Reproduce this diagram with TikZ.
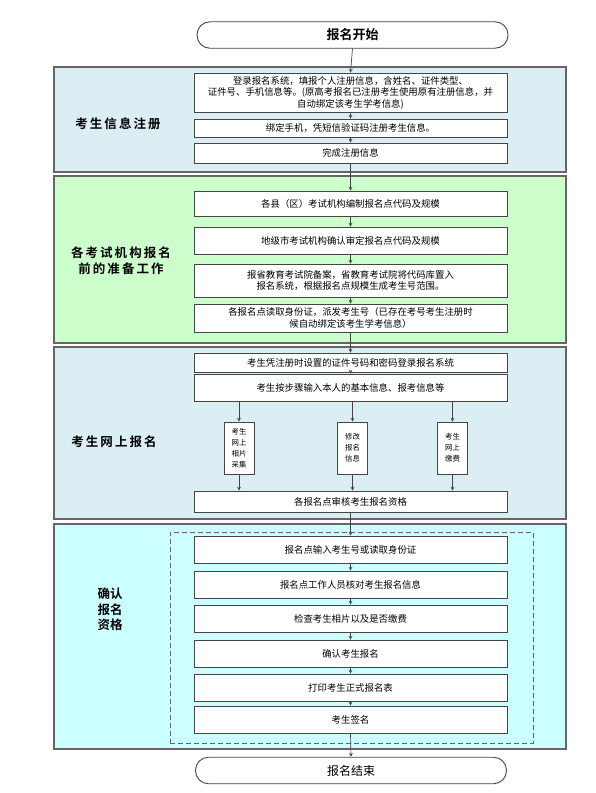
\documentclass[tikz,border=0pt]{standalone}
\usepackage{fontspec}
\setmainfont{Noto Sans CJK SC}
\newfontfamily\cjkbold{Noto Sans CJK SC Bold}
\usepackage{xcolor}
\usetikzlibrary{positioning,arrows,shapes}

\definecolor{secblue}{HTML}{DAEEF3}
\definecolor{secgreen}{HTML}{CCFFCC}
\definecolor{seccyan}{HTML}{CCFFFF}
\definecolor{rimgray}{HTML}{666666}
\definecolor{boxgray}{HTML}{454545}

\tikzset{
    secbox/.style={draw=rimgray, line width=1.2pt, inner sep=0pt},
    stepbox/.style={draw=boxgray, line width=0.9pt, fill=white, minimum width=313, inner sep=1pt,
        align=center, font=\fontsize{9.4}{11.5}\selectfont},
    smallbox/.style={draw=boxgray, line width=0.9pt, fill=white, minimum width=30, minimum height=52,
        inner sep=1pt, align=center, font=\fontsize{7.4}{11}\selectfont},
    termbox/.style={draw=boxgray, line width=0.9pt, fill=white, rounded corners=13pt,
        minimum width=311, minimum height=26.5},
    seclabel/.style={align=center, font=\cjkbold\fontsize{12.5}{16}\selectfont},
    flow/.style={-stealth, draw=boxgray, line width=0.7pt}
}

\begin{document}
\begin{tikzpicture}[x=1pt,y=-1pt]
\useasboundingbox (0,0) rectangle (596,793);

% sections
\node[secbox, fill=secblue, minimum width=512, minimum height=105] (sec1) at (310,119.5) {};
\node[secbox, fill=secgreen, minimum width=512, minimum height=167] (sec2) at (310,259.5) {};
\node[secbox, fill=secblue, minimum width=512, minimum height=172] (sec3) at (310,433) {};
\node[secbox, fill=seccyan, minimum width=512, minimum height=225] (sec4) at (310,636.5) {};
\node[draw=rimgray, line width=0.9pt, dash pattern=on 5pt off 3pt, minimum width=363, minimum height=211, inner sep=0pt] (dash4) at (351.5,637.5) {};

\node[seclabel] (lab1) at (118,124) {考\,生\,信\,息\,注\,册};
\node[seclabel] (lab2) at (121,261) {各\,考\,试\,机\,构\,报\,名\\前\,的\,准\,备\,工\,作};
\node[seclabel] (lab3) at (114,442) {考\,生\,网\,上\,报\,名};
\node[seclabel, font=\cjkbold\fontsize{12.5}{15.5}\selectfont] (lab4) at (110,609.5) {确认\\报名\\资格};

% start / end
\node[termbox, font=\cjkbold\fontsize{13}{15}\selectfont] (start) at (352.5,35) {报名开始};
\node[termbox, font=\fontsize{12}{14}\selectfont] (finish) at (351,770.5) {报名结束};

% registration
\node[stepbox, minimum height=39] (s11) at (350.5,92.5)
    {登录报名系统，填报个人注册信息，含姓名、证件类型、\\证件号、手机信息等。(原高考报名已注册考生使用原有注册信息，并\\自动绑定该考生学考信息)};
\node[stepbox, minimum height=18] (s12) at (350.5,128) {绑定手机，凭短信验证码注册考生信息。};
\node[stepbox, minimum height=20] (s13) at (350.5,153) {完成注册信息};

% preparation
\node[stepbox, minimum height=25] (s21) at (350.5,203.5) {各县（区）考试机构编制报名点代码及规模};
\node[stepbox, minimum height=27] (s22) at (350.5,240.5) {地级市考试机构确认审定报名点代码及规模};
\node[stepbox, minimum height=33] (s23) at (350.5,280.5) {报省教育考试院备案，省教育考试院将代码库置入\\报名系统，根据报名点规模生成考生号范围。};
\node[stepbox, minimum height=28] (s24) at (350.5,318) {各报名点读取身份证，派发考生号（已存在考号考生注册时\\候自动绑定该考生学考信息）};

% online
\node[stepbox, minimum height=19] (s31) at (350.5,362.5) {考生凭注册时设置的证件号码和密码登录报名系统};
\node[stepbox, minimum height=27] (s32) at (350.5,387.5) {考生按步骤输入本人的基本信息、报考信息等};
\node[smallbox] (photo) at (239,448) {考生\\网上\\相片\\采集};
\node[smallbox] (modify) at (352.5,448) {修改\\报名\\信息};
\node[smallbox] (pay) at (452.5,448) {考生\\网上\\缴费};
\node[stepbox, minimum height=21] (s33) at (350.5,501.5) {各报名点审核考生报名资格};

% confirmation
\node[stepbox, minimum height=27] (s41) at (350.5,549.5) {报名点输入考生号或读取身份证};
\node[stepbox, minimum height=27] (s42) at (350.5,584.5) {报名点工作人员核对考生报名信息};
\node[stepbox, minimum height=27] (s43) at (350.5,618.5) {检查考生相片以及是否缴费};
\node[stepbox, minimum height=27] (s44) at (350.5,653.5) {确认考生报名};
\node[stepbox, minimum height=27] (s45) at (350.5,687.5) {打印考生正式报名表};
\node[stepbox, minimum height=27] (s46) at (350.5,719.5) {考生签名};

% connectors
\foreach \a/\b in {start/s11, s11/s12, s12/s13, s13/s21, s21/s22, s22/s23, s23/s24, s24/s31,
    s31/s32, s33/s41, s41/s42, s42/s43, s43/s44, s44/s45, s45/s46, s46/finish}
    \draw[flow] (\a.south) -- (\b.north);
\foreach \m in {photo, modify, pay} {
    \draw[flow] (s32.south -| \m) -- (\m.north);
    \draw[flow] (\m.south) -- (s33.north -| \m);
}
\end{tikzpicture}
\end{document}
